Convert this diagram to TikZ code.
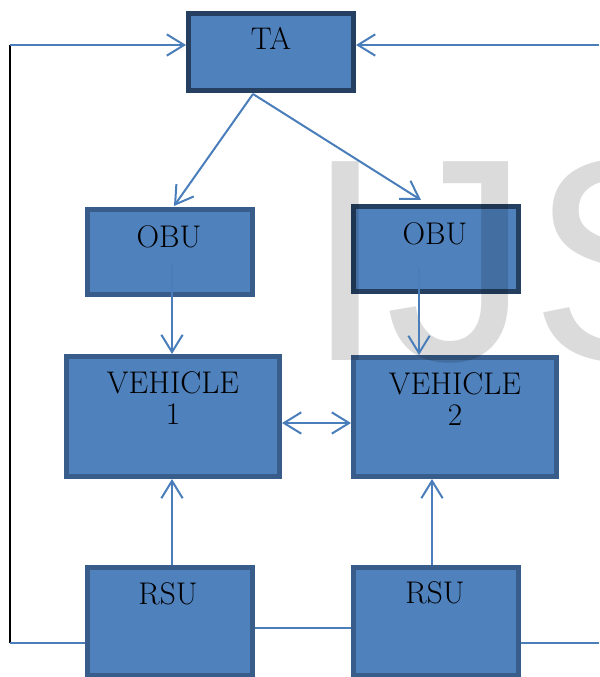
\documentclass[tikz,border=0pt]{standalone}
\usepackage{fontspec}
\newfontfamily\wmfont{Liberation Sans}
\usetikzlibrary{arrows.meta,calc}
\definecolor{boxfill}{HTML}{4F81BD}
\definecolor{boxline}{HTML}{385D8A}
\definecolor{darkline}{HTML}{243F60}
\definecolor{conn}{HTML}{4A7EBB}
\tikzset{
  bx/.style={draw=boxline, fill=boxfill, line width=3.75pt, inner sep=0pt},
  dk/.style={draw=darkline},
  lbl/.style={anchor=base, inner sep=0pt, align=center, text=black,
    font=\fontsize{23.5}{23.25}\selectfont},
  cn/.style={draw=conn, line width=1.5pt},
  ar/.style={-{Straight Barb[length=13pt,width=16pt]}},
  ar2/.style={{Straight Barb[length=13pt,width=16pt]}-{Straight Barb[length=13pt,width=16pt]}},
}
\begin{document}
\begin{tikzpicture}[x=0.75pt,y=-0.75pt]
\useasboundingbox (0,0) rectangle (599,677);
% boxes
\node[bx,dk, minimum width=165*0.75pt, minimum height=77*0.75pt] (ta) at (271,52) {};
\node[bx, minimum width=165*0.75pt, minimum height=85*0.75pt] (obu1) at (170,252) {};
\node[bx,dk, minimum width=165*0.75pt, minimum height=85*0.75pt] (obu2) at (436,249) {};
\node[bx, minimum width=213*0.75pt, minimum height=120*0.75pt] (veh1) at (173,416.5) {};
\node[bx, minimum width=203*0.75pt, minimum height=119*0.75pt] (veh2) at (455,417) {};
\node[bx, minimum width=165*0.75pt, minimum height=108*0.75pt] (rsu1) at (170,621.5) {};
\node[bx, minimum width=165*0.75pt, minimum height=108*0.75pt] (rsu2) at (436,621.5) {};
% watermark
\node[anchor=base west, inner sep=0pt, text=black, opacity=0.14,
  font=\fontsize{216.75}{216.75}\selectfont\wmfont] (wm) at (305,360) {IJS};
% labels
\node[lbl] (tat) at (271,50) {TA};
\node[lbl] (o1t) at (169,247) {OBU};
\node[lbl] (o2t) at (435,244) {OBU};
\node[lbl] (v1t) at (173,424) {VEHICLE\\1};
\node[lbl] (v2t) at (455,425) {VEHICLE\\2};
\node[lbl] (r1t) at (168,604) {RSU};
\node[lbl] (r2t) at (435,603) {RSU};
% helper coordinates
\coordinate (tab) at (253,94);
\coordinate (lt) at (10,45);
\coordinate (lb) at (10,643);
\coordinate (rt) at (599,45);
\coordinate (rb) at (599,643);
\coordinate (o1s) at (172,264);
\coordinate (o2s) at (419,267);
\coordinate (vy) at (0,423);
\coordinate (r2x) at (432,0);
\coordinate (ry) at (0,628);
% connectors
\draw[cn,ar] (tab) -- ($(obu1.north)+(4,-1)$);
\draw[cn,ar] (tab) -- ($(obu2.north)+(-15,-4)$);
\draw[cn,ar] (o1s) -- (o1s |- veh1.north);
\draw[cn,ar] (o2s) -- (o2s |- veh2.north);
\draw[cn,ar2] (veh1.east |- vy) -- (veh2.west |- vy);
\draw[cn,ar] (rsu1.north -| o1s) -- (veh1.south -| o1s);
\draw[cn,ar] (rsu2.north -| r2x) -- (veh2.south -| r2x);
\draw[cn] (rsu1.east |- ry) -- (rsu2.west |- ry);
\draw[black, line width=1.1pt] (lt) -- (lb);
\draw[cn,ar] (lt) -- (lt -| ta.west);
\draw[cn] (rsu1.west |- lb) -- (lb);
\draw[cn,ar] (rt) -- (rt -| ta.east);
\draw[cn] (rsu2.east |- rb) -- (rb);
\end{tikzpicture}
\end{document}
